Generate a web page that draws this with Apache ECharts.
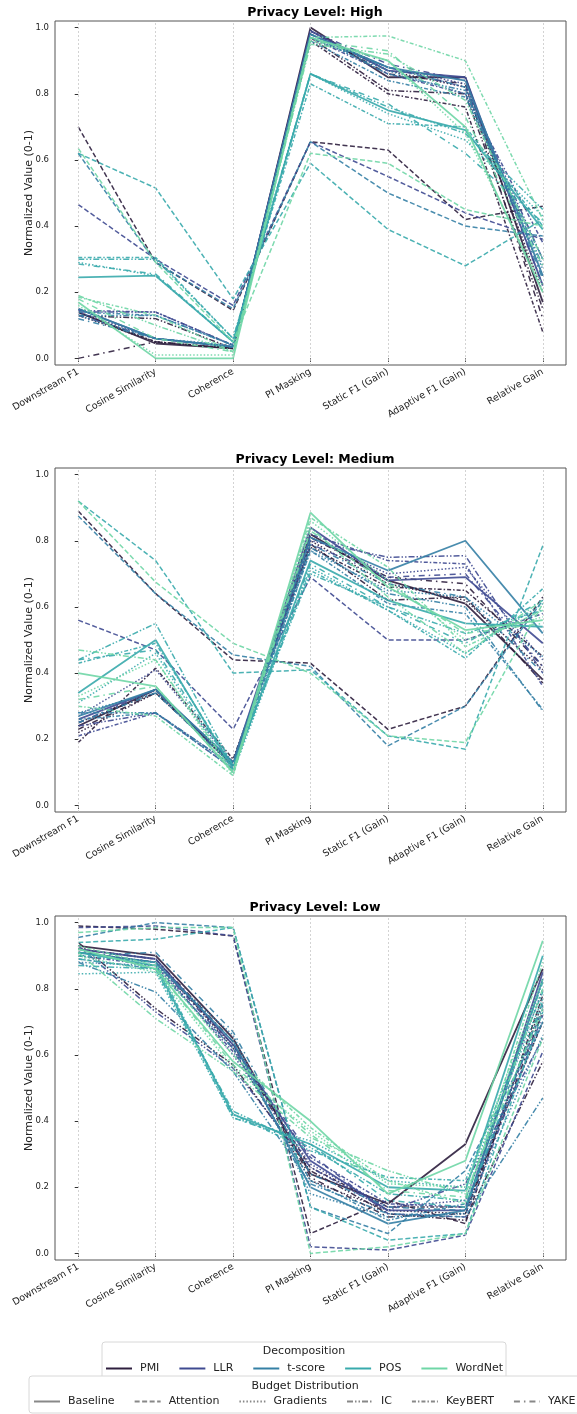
<!DOCTYPE html>
<html>
<head>
<meta charset="utf-8">
<script src="https://cdn.jsdelivr.net/npm/echarts@6/dist/echarts.min.js"></script>
<style>
  html, body { margin: 0; padding: 0; background: #fff; }
  #chart { width: 577px; height: 1414px; }
</style>
</head>
<body>
<div id="chart"></div>
<script>
// axes / groups
var metrics = ['Downstream F1', 'Cosine Similarity', 'Coherence', 'PI Masking', 'Static F1 (Gain)', 'Adaptive F1 (Gain)', 'Relative Gain'];
var decomps = ['PMI', 'LLR', 't-score', 'POS', 'WordNet'];
var budgets = ['Baseline', 'Attention', 'Gradients', 'IC', 'KeyBERT', 'YAKE'];
var levels = ['High', 'Medium', 'Low'];
var yTicks = [0, 0.2, 0.4, 0.6, 0.8, 1.0];

// rows follow budgets order: Baseline, Attention, Gradients, IC, KeyBERT, YAKE
var high_pmi = [
    [0.14, 0.045, 0.03, 1.00, 0.85, 0.85, 0.17],
    [0.70, 0.29, 0.145, 0.655, 0.63, 0.42, 0.46],
    [0.13, 0.05, 0.03, 0.99, 0.87, 0.82, 0.20],
    [0.13, 0.12, 0.03, 0.97, 0.81, 0.80, 0.15],
    [0.14, 0.05, 0.03, 0.96, 0.80, 0.76, 0.08],
    [0.00, 0.05, 0.03, 0.99, 0.86, 0.83, 0.12]
];
var high_llr = [
    [0.15, 0.06, 0.035, 0.99, 0.87, 0.85, 0.22],
    [0.465, 0.30, 0.16, 0.655, 0.55, 0.44, 0.36],
    [0.14, 0.06, 0.035, 0.98, 0.88, 0.83, 0.25],
    [0.14, 0.14, 0.04, 0.98, 0.88, 0.82, 0.30],
    [0.145, 0.14, 0.04, 0.97, 0.86, 0.80, 0.35],
    [0.13, 0.06, 0.035, 0.99, 0.89, 0.84, 0.22]
];
var high_tscore = [
    [0.15, 0.06, 0.035, 0.98, 0.88, 0.84, 0.25],
    [0.62, 0.29, 0.15, 0.655, 0.50, 0.40, 0.37],
    [0.13, 0.06, 0.04, 0.97, 0.87, 0.80, 0.27],
    [0.13, 0.13, 0.04, 0.98, 0.86, 0.81, 0.28],
    [0.14, 0.13, 0.04, 0.96, 0.84, 0.79, 0.30],
    [0.12, 0.06, 0.035, 0.97, 0.88, 0.82, 0.24]
];
var high_pos = [
    [0.245, 0.25, 0.05, 0.86, 0.75, 0.69, 0.39],
    [0.62, 0.515, 0.18, 0.59, 0.39, 0.28, 0.42],
    [0.29, 0.25, 0.05, 0.86, 0.74, 0.66, 0.43],
    [0.30, 0.30, 0.06, 0.86, 0.76, 0.68, 0.45],
    [0.305, 0.305, 0.06, 0.83, 0.71, 0.70, 0.40],
    [0.285, 0.255, 0.05, 0.86, 0.77, 0.62, 0.41]
];
var high_wordnet = [
    [0.17, 0.0, 0.0, 0.97, 0.90, 0.70, 0.20],
    [0.635, 0.29, 0.05, 0.62, 0.59, 0.45, 0.40],
    [0.16, 0.01, 0.01, 0.96, 0.90, 0.68, 0.22],
    [0.19, 0.10, 0.02, 0.95, 0.92, 0.78, 0.30],
    [0.185, 0.13, 0.02, 0.97, 0.975, 0.90, 0.42],
    [0.18, 0.06, 0.02, 0.96, 0.93, 0.73, 0.28]
];

var medium_pmi = [
    [0.24, 0.35, 0.12, 0.82, 0.68, 0.61, 0.38],
    [0.89, 0.64, 0.44, 0.43, 0.23, 0.30, 0.63],
    [0.22, 0.34, 0.13, 0.80, 0.67, 0.62, 0.41],
    [0.25, 0.34, 0.13, 0.79, 0.62, 0.63, 0.37],
    [0.19, 0.415, 0.14, 0.78, 0.66, 0.65, 0.45],
    [0.23, 0.34, 0.12, 0.81, 0.69, 0.67, 0.42]
];
var medium_llr = [
    [0.26, 0.35, 0.13, 0.84, 0.68, 0.69, 0.49],
    [0.56, 0.47, 0.23, 0.69, 0.50, 0.50, 0.58],
    [0.27, 0.41, 0.13, 0.81, 0.70, 0.72, 0.44],
    [0.24, 0.28, 0.12, 0.80, 0.75, 0.755, 0.40],
    [0.21, 0.28, 0.11, 0.82, 0.74, 0.73, 0.36],
    [0.25, 0.35, 0.12, 0.79, 0.69, 0.70, 0.42]
];
var medium_tscore = [
    [0.27, 0.35, 0.13, 0.81, 0.71, 0.80, 0.52],
    [0.875, 0.64, 0.455, 0.42, 0.18, 0.30, 0.62],
    [0.28, 0.34, 0.12, 0.77, 0.65, 0.63, 0.45],
    [0.28, 0.28, 0.12, 0.78, 0.64, 0.60, 0.285],
    [0.26, 0.28, 0.11, 0.77, 0.61, 0.58, 0.29],
    [0.25, 0.34, 0.12, 0.79, 0.67, 0.63, 0.40]
];
var medium_pos = [
    [0.34, 0.50, 0.11, 0.74, 0.62, 0.55, 0.54],
    [0.92, 0.74, 0.40, 0.41, 0.21, 0.17, 0.785],
    [0.31, 0.46, 0.10, 0.72, 0.59, 0.46, 0.61],
    [0.44, 0.55, 0.12, 0.70, 0.60, 0.52, 0.59],
    [0.43, 0.49, 0.12, 0.71, 0.59, 0.445, 0.655],
    [0.44, 0.47, 0.11, 0.73, 0.60, 0.49, 0.62]
];
var medium_wordnet = [
    [0.40, 0.36, 0.10, 0.885, 0.66, 0.53, 0.56],
    [0.92, 0.675, 0.49, 0.40, 0.21, 0.19, 0.61],
    [0.33, 0.44, 0.09, 0.86, 0.68, 0.50, 0.57],
    [0.47, 0.44, 0.10, 0.84, 0.63, 0.46, 0.62],
    [0.30, 0.27, 0.09, 0.87, 0.72, 0.48, 0.59],
    [0.32, 0.36, 0.10, 0.83, 0.67, 0.52, 0.55]
];

var low_pmi = [
    [0.93, 0.90, 0.65, 0.24, 0.15, 0.33, 0.86],
    [0.99, 0.98, 0.96, 0.06, 0.16, 0.09, 0.78],
    [0.92, 0.89, 0.62, 0.22, 0.13, 0.12, 0.76],
    [0.94, 0.74, 0.57, 0.25, 0.12, 0.10, 0.58],
    [0.91, 0.88, 0.63, 0.26, 0.14, 0.14, 0.70],
    [0.92, 0.89, 0.64, 0.23, 0.11, 0.12, 0.73]
];
var low_llr = [
    [0.92, 0.89, 0.63, 0.28, 0.13, 0.13, 0.85],
    [0.985, 0.99, 0.96, 0.02, 0.01, 0.055, 0.61],
    [0.91, 0.88, 0.60, 0.27, 0.14, 0.16, 0.80],
    [0.93, 0.73, 0.56, 0.26, 0.13, 0.21, 0.65],
    [0.90, 0.87, 0.61, 0.29, 0.15, 0.14, 0.74],
    [0.91, 0.88, 0.62, 0.30, 0.12, 0.11, 0.72]
];
var low_tscore = [
    [0.91, 0.88, 0.64, 0.20, 0.09, 0.13, 0.83],
    [0.955, 1.00, 0.985, 0.14, 0.06, 0.25, 0.70],
    [0.88, 0.87, 0.66, 0.18, 0.11, 0.12, 0.66],
    [0.88, 0.79, 0.55, 0.21, 0.12, 0.11, 0.47],
    [0.89, 0.86, 0.62, 0.22, 0.10, 0.15, 0.70],
    [0.90, 0.91, 0.67, 0.24, 0.14, 0.13, 0.75]
];
var low_pos = [
    [0.91, 0.87, 0.42, 0.33, 0.20, 0.19, 0.90],
    [0.94, 0.95, 0.985, 0.14, 0.04, 0.06, 0.73],
    [0.845, 0.85, 0.41, 0.34, 0.22, 0.20, 0.77],
    [0.87, 0.86, 0.43, 0.32, 0.18, 0.16, 0.82],
    [0.90, 0.88, 0.42, 0.31, 0.23, 0.22, 0.79],
    [0.89, 0.86, 0.41, 0.33, 0.16, 0.14, 0.76]
];
var low_wordnet = [
    [0.92, 0.86, 0.58, 0.40, 0.18, 0.28, 0.945],
    [0.97, 0.985, 0.985, 0.00, 0.02, 0.06, 0.65],
    [0.90, 0.85, 0.56, 0.37, 0.21, 0.20, 0.83],
    [0.91, 0.71, 0.55, 0.35, 0.25, 0.18, 0.74],
    [0.93, 0.87, 0.60, 0.38, 0.22, 0.15, 0.88],
    [0.92, 0.86, 0.57, 0.36, 0.19, 0.17, 0.80]
];

var panels = [
    [high_pmi, high_llr, high_tscore, high_pos, high_wordnet],
    [medium_pmi, medium_llr, medium_tscore, medium_pos, medium_wordnet],
    [low_pmi, low_llr, low_tscore, low_pos, low_wordnet]
];

// styles
var decompColors = ['#2e1f3e', '#3f4a91', '#3580a5', '#38aaac', '#6fd6a6'];
var budgetDash = ['solid', [5, 2.5], [1.5, 2], [6, 2, 1.5, 2, 1.5, 2], [4, 2, 1.5, 2], [6, 4, 1.5, 4]];
var gridTops = [21, 468, 916];
var gridH = 344;
var font = 'DejaVu Sans';

var grids = [], xAxes = [], yAxes = [], titles = [], series = [];

gridTops.forEach(function (top, p) {
    grids.push({ left: 55, top: top, width: 511, height: gridH, show: true, borderColor: '#555', borderWidth: 1, backgroundColor: '#fff' });
    titles.push({
        text: 'Privacy Level: ' + levels[p],
        left: 310, top: top - 20, textAlign: 'center',
        textStyle: { fontFamily: font, fontSize: 12.5, fontWeight: 'bold', color: '#000' }
    });
    xAxes.push({
        type: 'value', gridIndex: p, min: -0.3, max: 6.3,
        axisLine: { show: false },
        splitLine: { show: false },
        axisTick: { show: true, length: 3.5, lineStyle: { color: '#333' }, customValues: [0, 1, 2, 3, 4, 5, 6] },
        axisLabel: {
            customValues: [0, 1, 2, 3, 4, 5, 6],
            rotate: 30, margin: 6, fontFamily: font, fontSize: 9.5, color: '#222',
            formatter: function (v) { return metrics[Math.round(v)] || ''; }
        }
    });
    yAxes.push({
        type: 'value', gridIndex: p, min: -0.02, max: 1.02,
        name: 'Normalized Value (0-1)', nameLocation: 'middle', nameGap: 20, nameMoveOverlap: false,
        nameTextStyle: { fontFamily: font, fontSize: 11, color: '#222' },
        axisLine: { show: false },
        splitLine: { show: false },
        axisTick: { show: true, length: 3.5, lineStyle: { color: '#333' }, customValues: yTicks },
        axisLabel: {
            customValues: yTicks, margin: 6, fontFamily: font, fontSize: 8.5, color: '#222',
            formatter: function (v) { return v.toFixed(1); }
        }
    });

    // one line per decomposition x budget
    panels[p].forEach(function (rows, d) {
        rows.forEach(function (vals, b) {
            var s = {
                type: 'line',
                name: decomps[d] + ' / ' + budgets[b],
                xAxisIndex: p, yAxisIndex: p,
                data: vals.map(function (v, i) { return [i, v]; }),
                symbol: 'none', silent: true, animation: false,
                lineStyle: { color: decompColors[d], width: b === 0 ? 1.8 : 1.5, type: budgetDash[b], opacity: 0.9 }
            };
            if (d === 0 && b === 0) {
                // vertical guides at every metric
                s.markLine = {
                    silent: true, symbol: 'none', label: { show: false }, animation: false,
                    lineStyle: { color: '#c8c8c8', type: [2, 2], width: 0.8 },
                    data: metrics.map(function (m, i) { return { xAxis: i }; })
                };
            }
            series.push(s);
        });
    });
});

// legend-only series
decomps.forEach(function (n, d) {
    series.push({ type: 'line', name: n, data: [], xAxisIndex: 0, yAxisIndex: 0, symbol: 'none',
        itemStyle: { color: decompColors[d] }, lineStyle: { color: decompColors[d], width: 3 } });
});
budgets.forEach(function (n, b) {
    series.push({ type: 'line', name: n, data: [], xAxisIndex: 0, yAxisIndex: 0, symbol: 'none',
        itemStyle: { color: '#888' }, lineStyle: { color: '#888', width: 1.5, type: budgetDash[b] } });
});

var legendText = { fontFamily: font, fontSize: 11, color: '#222', padding: [0, 0, 0, 3] };

var chart = echarts.init(document.getElementById('chart'), null, { renderer: 'canvas' });
chart.setOption({
    animation: false,
    backgroundColor: '#fff',
    title: titles,
    grid: grids,
    xAxis: xAxes,
    yAxis: yAxes,
    legend: [{
        data: decomps, left: 105, top: 1363, padding: 0, itemGap: 19, itemWidth: 26, itemHeight: 10,
        selectedMode: false, itemStyle: { opacity: 0 }, textStyle: legendText
    }, {
        data: budgets, left: 33, top: 1396, padding: 0, itemGap: 19, itemWidth: 26, itemHeight: 10,
        selectedMode: false, itemStyle: { opacity: 0 }, textStyle: legendText
    }],
    graphic: [
        { type: 'rect', z: 1, shape: { x: 102, y: 1342, width: 404, height: 45, r: 3 }, style: { fill: '#fff', stroke: '#d8d8d8', lineWidth: 1 } },
        { type: 'text', z: 2, x: 304, y: 1351, style: { text: 'Decomposition', fontFamily: font, fontSize: 11, fill: '#222', align: 'center', verticalAlign: 'middle' } },
        { type: 'rect', z: 3, shape: { x: 29, y: 1376, width: 570, height: 37, r: 3 }, style: { fill: '#fff', stroke: '#d8d8d8', lineWidth: 1 } },
        { type: 'text', z: 4, x: 305, y: 1386, style: { text: 'Budget Distribution', fontFamily: font, fontSize: 11, fill: '#222', align: 'center', verticalAlign: 'middle' } }
    ],
    series: series
});
</script>
</body>
</html>
